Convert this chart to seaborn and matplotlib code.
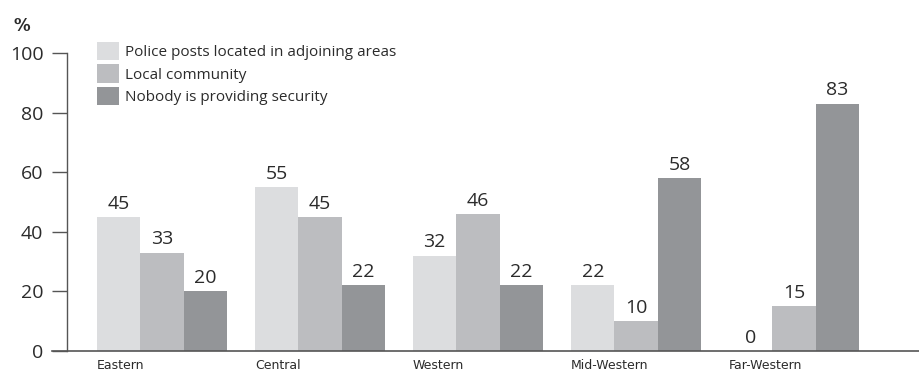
import matplotlib
matplotlib.use("Agg")
import matplotlib.pyplot as plt
import matplotlib.transforms as mtransforms
import seaborn as sns
import pandas as pd

# Who provides security, by region (%)
regions = ["Eastern", "Central", "Western", "Mid-Western", "Far-Western"]
providers = [
    "Police posts located in adjoining areas",
    "Local community",
    "Nobody is providing security",
]
police_posts = [45, 55, 32, 22, 0]
local_community = [33, 45, 46, 10, 15]
nobody = [20, 22, 22, 58, 83]
y_ticks = [0, 20, 40, 60, 80, 100]

colors = ["#dcdddf", "#bcbdc0", "#939598"]
text_color = "#2b2b2b"

rows = []
for prov, vals in zip(providers, [police_posts, local_community, nobody]):
    for reg, v in zip(regions, vals):
        rows.append({"region": reg, "provider": prov, "value": v})
df = pd.DataFrame(rows)

sns.set_theme(style="white")
plt.rcParams["font.family"] = ["Open Sans", "DejaVu Sans"]
plt.rcParams["text.color"] = text_color

W, H = 919, 376
fig = plt.figure(figsize=(W / 100, H / 100), dpi=100)
ax = fig.add_axes([67 / W, (H - 351) / H, (W - 67) / W, (351 - 53) / H])

bar_w = 0.823
sns.barplot(
    data=df, x="region", y="value", hue="provider",
    order=regions, hue_order=providers, palette=colors,
    width=bar_w, saturation=1, gap=0, errorbar=None, ax=ax,
    linewidth=0, edgecolor="none",
)

for cont in ax.containers:
    ax.bar_label(cont, labels=[f"{v:g}" for v in cont.datavalues],
                 padding=3, fontsize=14, color=text_color)

ax.set_ylim(0, 100)
ax.set_xlim(-0.601, 4.79)
ax.set_yticks(y_ticks)
ax.set_yticklabels([str(t) for t in y_ticks], fontsize=14, color=text_color)
ax.tick_params(axis="y", left=True, length=11, width=1, color="#555555",
               direction="out", pad=6)
ax.tick_params(axis="x", bottom=False, length=0, pad=6)

# Region labels start at the left edge of each bar group
ax.set_xticks(range(len(regions)))
ax.set_xticklabels(regions, fontsize=9, color=text_color, ha="left",
                   family=["Liberation Sans Narrow", "DejaVu Sans"])
for lbl in ax.get_xticklabels():
    lbl.set_transform(lbl.get_transform() + mtransforms.ScaledTranslation(
        -bar_w / 2 * 158 / 100, 0, fig.dpi_scale_trans))

ax.set_xlabel("")
ax.set_ylabel("")
for side in ["top", "right"]:
    ax.spines[side].set_visible(False)
ax.spines["left"].set_color("#555555")
ax.spines["bottom"].set_color("#555555")
ax.spines["left"].set_linewidth(1)
ax.spines["bottom"].set_linewidth(1.2)
# baseline runs out to the left under the zero tick
ax.spines["bottom"].set_bounds(-0.601 - 15 / 158, 4.79)
ax.spines["bottom"].set_clip_on(False)

handles, labels = ax.get_legend_handles_labels()
ax.legend(handles, labels, loc="upper left",
          bbox_to_anchor=(97 / W, 1 - 42 / H), bbox_transform=fig.transFigure,
          frameon=False, fontsize=11, handlelength=1.45, handleheight=1.45,
          labelspacing=0.28, handletextpad=0.4, borderpad=0, borderaxespad=0)

fig.text(14 / W, 1 - 31 / H, "%", fontsize=12, fontweight="bold",
         color=text_color, family=["Liberation Sans Narrow", "DejaVu Sans"])

fig.savefig("out.png", dpi=100)
